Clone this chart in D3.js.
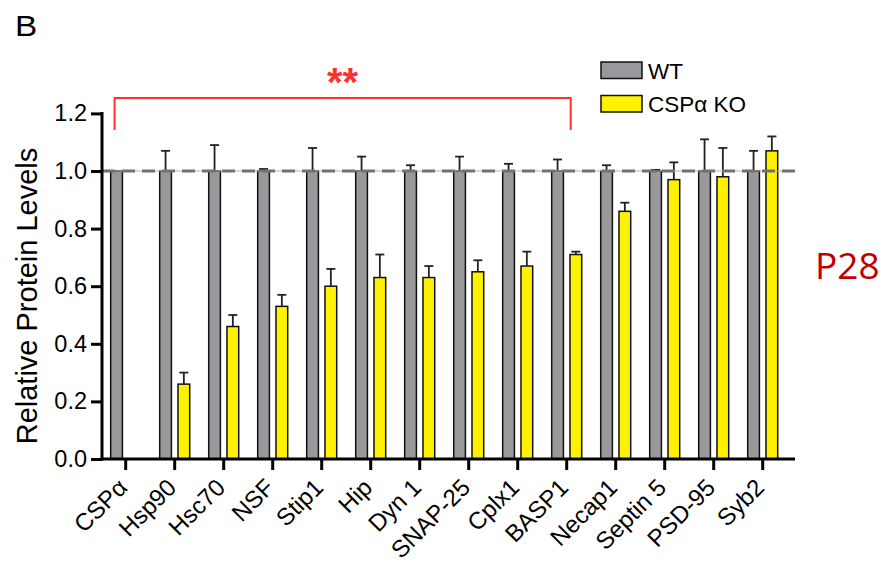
<!DOCTYPE html>
<meta charset="utf-8">
<head>
<style>
body { margin: 0; background: #fff; }
svg { display: block; font-family: "Liberation Sans", Arial, sans-serif; }
.axis path, .axis line { stroke: #000; stroke-width: 3px; }
.bar { stroke: #111; stroke-width: 1.5px; }
.err line { stroke: #222; stroke-width: 1.8px; }
</style>
<script src="https://d3js.org/d3.v7.min.js"></script>
</head>
<body>
<svg width="891" height="563"></svg>
<script>

var categories = ["CSP\u03b1", "Hsp90", "Hsc70", "NSF", "Stip1", "Hip", "Dyn 1", "SNAP-25", "Cplx1", "BASP1", "Necap1", "Septin 5", "PSD-95", "Syb2"];
var wtMean = [1, 1, 1, 1, 1, 1, 1, 1, 1, 1, 1, 1, 1, 1];
var wtErr  = [0, 0.07, 0.09, 0.007, 0.08, 0.05, 0.02, 0.05, 0.025, 0.04, 0.02, 0.004, 0.11, 0.07];
var koMean = [0, 0.26, 0.46, 0.53, 0.60, 0.63, 0.63, 0.65, 0.67, 0.71, 0.86, 0.97, 0.98, 1.07];
var koErr  = [0, 0.04, 0.04, 0.04, 0.06, 0.08, 0.04, 0.04, 0.05, 0.01, 0.03, 0.06, 0.10, 0.05];
var series = ["WT", "CSP\u03b1 KO"];
var yTicks = [0, 0.2, 0.4, 0.6, 0.8, 1.0, 1.2];
var colors = ["#99989d", "#fff200"];

var svg = d3.select("svg");

var x = d3.scaleBand()
    .domain(categories)
    .range([101.2, 787.2])
    .padding(0);

var xs = d3.scaleBand()
    .domain(series)
    .range([9.5, 39.5])
    .paddingInner(0.36);

var y = d3.scaleLinear()
    .domain([0, 1.2])
    .range([459, 113.4]);

var rows = categories.map(function(c, i) {
  return {cat: c, vals: [
    {s: series[0], m: wtMean[i], e: wtErr[i], c: colors[0]},
    {s: series[1], m: koMean[i], e: koErr[i], c: colors[1]}
  ]};
});

// bars
var group = svg.append("g").selectAll("g")
  .data(rows)
  .enter().append("g")
    .attr("transform", function(d) { return "translate(" + x(d.cat) + ",0)"; });

group.selectAll("rect")
  .data(function(d) { return d.vals.filter(function(v) { return v.m > 0; }); })
  .enter().append("rect")
    .attr("class", "bar")
    .attr("x", function(d) { return xs(d.s); })
    .attr("width", xs.bandwidth())
    .attr("y", function(d) { return y(d.m); })
    .attr("height", function(d) { return y(0) - y(d.m); })
    .attr("fill", function(d) { return d.c; });

// error bars
var err = group.selectAll(".err")
  .data(function(d) { return d.vals.filter(function(v) { return v.e > 0; }); })
  .enter().append("g")
    .attr("class", "err");

err.append("line")
    .attr("x1", function(d) { return xs(d.s) + xs.bandwidth() / 2; })
    .attr("x2", function(d) { return xs(d.s) + xs.bandwidth() / 2; })
    .attr("y1", function(d) { return y(d.m); })
    .attr("y2", function(d) { return y(d.m + d.e); });

err.append("line")
    .attr("x1", function(d) { return xs(d.s) + xs.bandwidth() / 2 - 4.5; })
    .attr("x2", function(d) { return xs(d.s) + xs.bandwidth() / 2 + 4.5; })
    .attr("y1", function(d) { return y(d.m + d.e); })
    .attr("y2", function(d) { return y(d.m + d.e); });

// reference line at 1.0
svg.append("line")
    .attr("x1", 102).attr("x2", 795)
    .attr("y1", y(1)).attr("y2", y(1))
    .attr("stroke", "#b8b2b2")
    .attr("stroke-width", 1);
svg.append("line")
    .attr("x1", 102).attr("x2", 795)
    .attr("y1", y(1)).attr("y2", y(1))
    .attr("stroke", "#7a6d6e")
    .attr("stroke-width", 3)
    .attr("stroke-dasharray", "13,7");

// y axis
var yAxis = svg.append("g")
    .attr("class", "axis")
    .attr("transform", "translate(102,0)")
    .call(d3.axisLeft(y).tickValues(yTicks).tickSize(11).tickSizeOuter(0).tickFormat(d3.format(".1f")));
yAxis.select(".domain").attr("d", "M0," + (y(1.2) - 1.5) + "V" + (y(0) + 1.5));
yAxis.selectAll("text")
    .attr("x", -15)
    .style("font-size", "23.5px")
    .style("font-family", "Liberation Sans, Arial, sans-serif")
    .attr("fill", "#000");

// x axis
var xAxis = svg.append("g")
    .attr("class", "axis")
    .attr("transform", "translate(0," + y(0) + ")")
    .call(d3.axisBottom(x).tickSize(11).tickSizeOuter(0));
xAxis.select(".domain").attr("d", "M100.5,0H795");
xAxis.selectAll("text")
    .style("font-size", "24px")
    .style("font-family", "Liberation Sans, Arial, sans-serif")
    .attr("fill", "#000")
    .attr("text-anchor", "end")
    .attr("y", 0).attr("dy", 0)
    .attr("transform", "translate(3,30) rotate(-45)");

// y label
svg.append("text")
    .attr("transform", "translate(37,296) rotate(-90)")
    .attr("text-anchor", "middle")
    .style("font-size", "29px")
    .text("Relative Protein Levels");

// panel letter
svg.append("text")
    .attr("transform", "translate(15,35.5) scale(1.15,1)")
    .style("font-size", "29px")
    .text("B");

// significance bracket
var b1 = x(categories[0]) + xs("WT") + xs.bandwidth() / 2 - 2,
    b2 = x(categories[9]) + x.bandwidth() / 2 + 4;
svg.append("path")
    .attr("d", "M" + b1 + ",130V98H" + b2 + "V130")
    .attr("fill", "none")
    .attr("stroke", "#ff3030")
    .attr("stroke-width", 2);
svg.append("text")
    .attr("x", (b1 + b2) / 2).attr("y", 96)
    .attr("text-anchor", "middle")
    .attr("fill", "#ff3030")
    .style("font-size", "40px")
    .style("font-weight", "bold")
    .text("**");

// legend
var legend = svg.append("g").selectAll("g")
  .data(series)
  .enter().append("g")
    .attr("transform", function(d, i) { return "translate(601," + (62 + i * 33.5) + ")"; });
legend.append("rect")
    .attr("width", 41).attr("height", 16.5)
    .attr("fill", function(d, i) { return colors[i]; })
    .attr("stroke", "#111").attr("stroke-width", 1.5);
legend.append("text")
    .attr("x", 47).attr("y", 16.5)
    .style("font-size", "22.5px")
    .text(function(d) { return d; });

// side label
svg.append("text")
    .attr("x", 815).attr("y", 279)
    .attr("fill", "#c00000")
    .style("font-family", "Open Sans, sans-serif")
    .style("font-size", "37px")
    .text("P28");

</script>
</body>
